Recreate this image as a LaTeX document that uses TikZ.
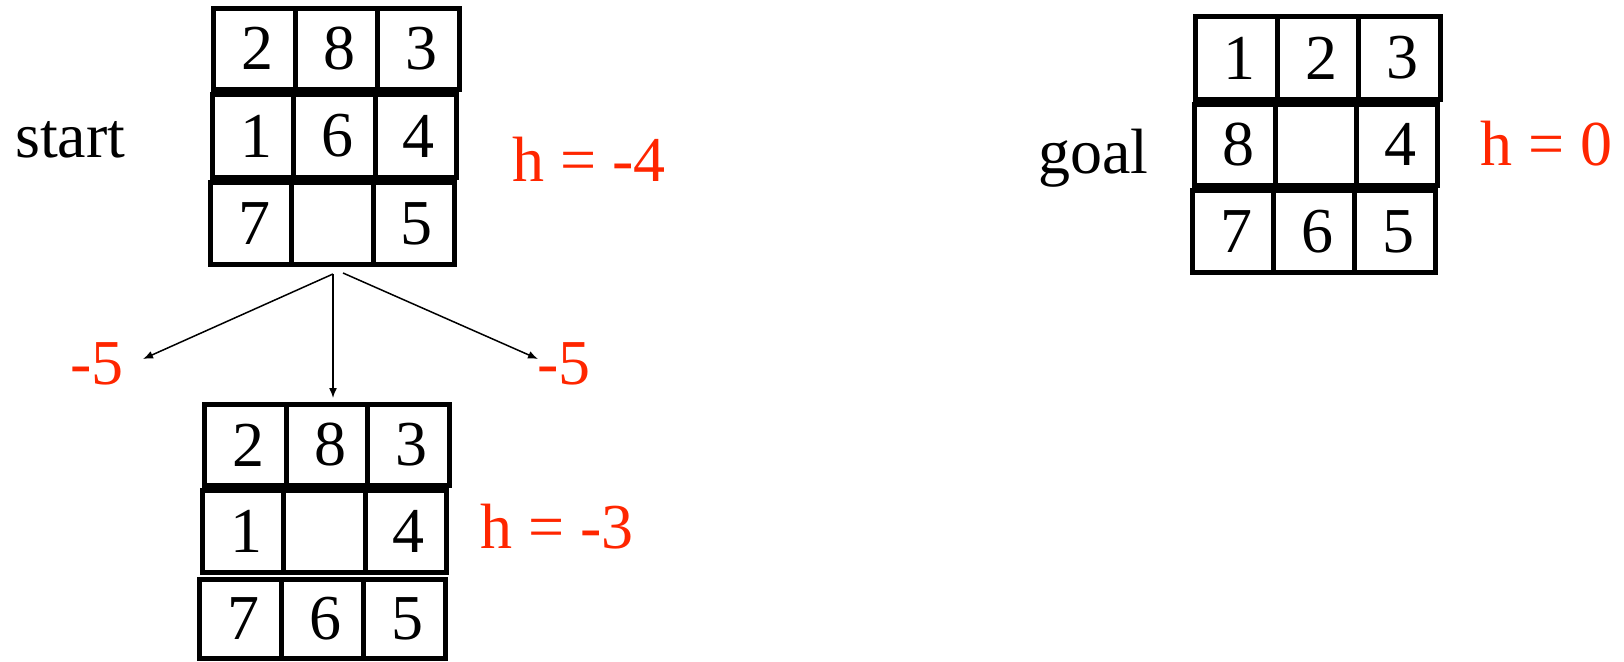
\documentclass[tikz,border=0pt]{standalone}
\usepackage{fontspec}
\setmainfont{Liberation Serif}
\usetikzlibrary{arrows.meta}
\definecolor{hred}{RGB}{255,38,0}
\newcommand\puzrow[8]{%
  \pgfmathsetmacro\prY{(#3+#4)/2}%
  \pgfmathsetmacro\prH{#4-#3}%
  \pgfmathsetmacro\prXa{#2+#5/2}%
  \pgfmathsetmacro\prXb{#2+1.5*#5}%
  \pgfmathsetmacro\prXc{#2+2.5*#5}%
  \node[cell, minimum width=#5pt, minimum height=\prH pt] (#1a) at (\prXa,\prY) {#6};
  \node[cell, minimum width=#5pt, minimum height=\prH pt] (#1b) at (\prXb,\prY) {#7};
  \node[cell, minimum width=#5pt, minimum height=\prH pt] (#1c) at (\prXc,\prY) {#8};
}
\begin{document}
\begin{tikzpicture}[x=1pt,y=-1pt,
  cell/.style={draw, line width=5pt, inner sep=0pt, outer sep=0pt,
    font=\fontsize{64}{70}\selectfont, execute at begin node={\hspace*{6pt}}},
  lbl/.style={anchor=base west, inner sep=0pt, font=\fontsize{64}{70}\selectfont},
  hlbl/.style={lbl, text=hred},
  arr/.style={line width=1.5pt, -{Latex[length=10pt,width=8pt]}}]
\useasboundingbox (0,0) rectangle (1624,661);
% start state
\puzrow{s1}{213.5}{8.5}{89}{82}{2}{8}{3}
\puzrow{s2}{212.5}{94.5}{177.5}{81.3}{1}{6}{4}
\puzrow{s3}{210.5}{182.5}{264.5}{81.3}{7}{}{5}
% successor
\puzrow{b1}{204.5}{404.5}{485.5}{81.7}{2}{8}{3}
\puzrow{b2}{202.5}{490.5}{572.5}{81.3}{1}{}{4}
\puzrow{b3}{199.5}{579}{658.5}{82}{7}{6}{5}
% goal
\puzrow{g1}{1195.5}{16.5}{99.5}{81.7}{1}{2}{3}
\puzrow{g2}{1194.5}{104.5}{185}{81}{8}{}{4}
\puzrow{g3}{1192.5}{190.5}{272.5}{81}{7}{6}{5}
% labels
\node[lbl] (start) at (15,157) {start};
\node[hlbl] (hs) at (512,181) {h = -4};
\node[lbl] (goal) at (1038,173) {goal};
\node[hlbl] (hg) at (1480,165) {h = 0};
\node[hlbl] (hb) at (480,548) {h = -3};
\node[hlbl] (vl) at (70,384) {-5};
\node[hlbl] (vr) at (537,384) {-5};
% arrows
\coordinate (o) at (333,274);
\coordinate (o2) at (343,273);
\coordinate (tl) at (143,359);
\coordinate (tr) at (538,359);
\coordinate (tm) at (333,398);
\draw[arr] (o) -- (tl);
\draw[arr] (o) -- (tm);
\draw[arr] (o2) -- (tr);
\end{tikzpicture}
\end{document}
